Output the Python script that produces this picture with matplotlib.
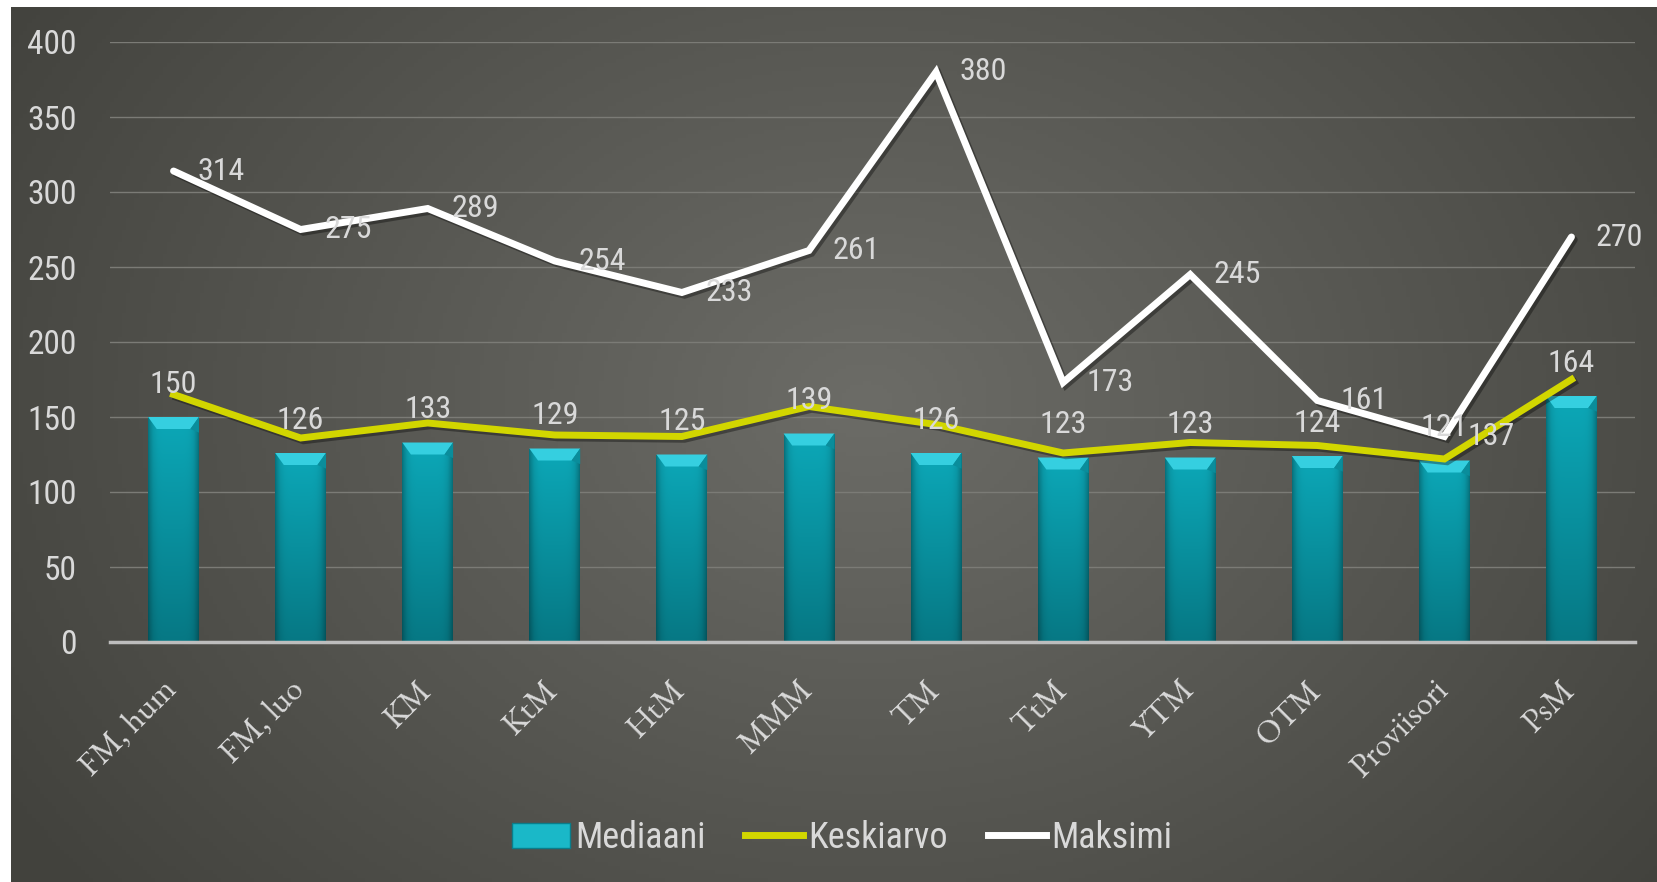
import numpy as np
import matplotlib
matplotlib.use('agg')
import matplotlib.pyplot as plt
import matplotlib.patheffects as pe
from matplotlib.patches import Polygon, Patch
from matplotlib.lines import Line2D

# data
tutkinnot = ['FM, hum', 'FM, luo', 'KM', 'KtM', 'HtM', 'MMM', 'TM', 'TtM',
             'YTM', 'OTM', 'Proviisori', 'PsM']
mediaani = [150, 126, 133, 129, 125, 139, 126, 123, 123, 124, 121, 164]
keskiarvo = [165, 136, 146, 138, 137, 157, 145, 126, 133, 131, 122, 175]
maksimi = [314, 275, 289, 254, 233, 261, 380, 173, 245, 161, 137, 270]
y_ticks = [0, 50, 100, 150, 200, 250, 300, 350, 400]

W, H = 1657, 882
num_font = ['Roboto Condensed', 'IBM Plex Sans Condensed', 'DejaVu Sans']
cat_font = ['EB Garamond', 'Liberation Serif', 'DejaVu Serif']
txt_col = '#d9d9d9'

fig = plt.figure(figsize=(W / 100, H / 100), dpi=100, facecolor='white')

# dark radial background (chart area), white strip at top and left
bg = fig.add_axes([11 / W, 0, 1 - 11 / W, 1 - 7 / H])
bg.set_axis_off()
gx, gy = np.meshgrid(np.linspace(0, 1, 400), np.linspace(0, 1, 220))
r = np.sqrt(((gx - 0.52) / 0.62) ** 2 + ((gy - 0.45) / 0.9) ** 2)
r = np.clip(r, 0, 1)
c_in = np.array([0x6c, 0x6c, 0x67]) / 255
c_out = np.array([0x42, 0x42, 0x3d]) / 255
img = c_in[None, None, :] * (1 - r[..., None]) + c_out[None, None, :] * r[..., None]
bg.imshow(img, aspect='auto', extent=[0, 1, 0, 1], origin='upper')

ax = fig.add_axes([110 / W, 1 - 642 / H, (1635 - 110) / W, (642 - 42) / H])
ax.patch.set_alpha(0)
x = np.arange(len(tutkinnot))
ax.set_xlim(-0.5, len(tutkinnot) - 0.5)
ax.set_ylim(0, 400)

bar_w = 0.4
bars = ax.bar(x, mediaani, width=bar_w, color='#0a9aaa', zorder=2)

# bar shading: vertical gradient + darker edges, plus a bevelled top
vg = np.linspace(0, 1, 100)[:, None]
hg = np.linspace(-1, 1, 40)[None, :]
top_c = np.array([0x0c, 0xa8, 0xb8]) / 255
bot_c = np.array([0x06, 0x78, 0x84]) / 255
shade = top_c * (1 - vg[..., None]) + bot_c * vg[..., None]
shade = shade * (1 - 0.3 * np.abs(hg[..., None]) ** 6)
for b in bars:
    x0, w, h = b.get_x(), b.get_width(), b.get_height()
    im = ax.imshow(shade, aspect='auto', extent=[x0, x0 + w, 0, h],
                   origin='upper', zorder=2.1)
    im.set_clip_path(b)
    bev_x = w * 0.17
    bev_y = 8
    ax.add_patch(Polygon([[x0, h], [x0 + w, h], [x0 + w - bev_x, h - bev_y],
                          [x0 + bev_x, h - bev_y]], closed=True,
                         facecolor='#35cfe0', edgecolor='none', zorder=2.2))
    ax.add_patch(Polygon([[x0 + w - bev_x, h - bev_y], [x0 + w, h], [x0 + w, h - bev_y * 1.3]],
                         closed=True, facecolor='#0a8d9b', edgecolor='none', zorder=2.3))

shadow = [pe.SimpleLineShadow(offset=(2, -2), alpha=0.35, shadow_color='black'), pe.Normal()]
ax.plot(x, keskiarvo, color='#d2d600', lw=5, zorder=3, solid_joinstyle='miter',
        path_effects=shadow)
ax.plot(x, maksimi, color='white', lw=5, zorder=3.1, solid_joinstyle='miter',
        solid_capstyle='round', path_effects=shadow)

for i, v in enumerate(mediaani):
    ax.annotate(str(v), (x[i], v), xytext=(0, 13), textcoords='offset points',
                ha='center', va='bottom', fontsize=23, color=txt_col,
                family=num_font, zorder=5)
for i, v in enumerate(maksimi):
    ax.annotate(str(v), (x[i], v), xytext=(17, 0), textcoords='offset points',
                ha='left', va='center', fontsize=23, color=txt_col,
                family=num_font, zorder=5)

ax.set_yticks(y_ticks)
ax.set_yticklabels([str(t) for t in y_ticks], family=num_font, fontsize=24, color=txt_col)
ax.tick_params(axis='y', length=0, pad=24)
ax.set_xticks(x)
ax.set_xticklabels(tutkinnot, rotation=45, ha='right', va='center', rotation_mode='anchor',
                   family=cat_font, fontsize=24, color=txt_col)
ax.tick_params(axis='x', length=0, pad=32)
ax.grid(axis='y', color='#7b7b76', lw=1, zorder=0)
ax.set_axisbelow(True)
for s in ['top', 'right', 'left']:
    ax.spines[s].set_visible(False)
ax.spines['bottom'].set_color('#bdbdbd')
ax.spines['bottom'].set_linewidth(2.5)
ax.spines['bottom'].set_zorder(2.5)

handles = [Patch(facecolor='#1ab8c8', edgecolor='#0a7d8a'),
           Line2D([], [], color='#d2d600', lw=5),
           Line2D([], [], color='white', lw=5)]
leg = fig.legend(handles, ['Mediaani', 'Keskiarvo', 'Maksimi'], loc='center',
                 bbox_to_anchor=(842 / W, 1 - 838 / H), ncol=3, frameon=False,
                 prop={'family': num_font, 'size': 26}, handlelength=1.6,
                 handletextpad=0.15, columnspacing=1.1)
for t in leg.get_texts():
    t.set_color(txt_col)

fig.savefig('out.png', dpi=100, facecolor=fig.get_facecolor())
